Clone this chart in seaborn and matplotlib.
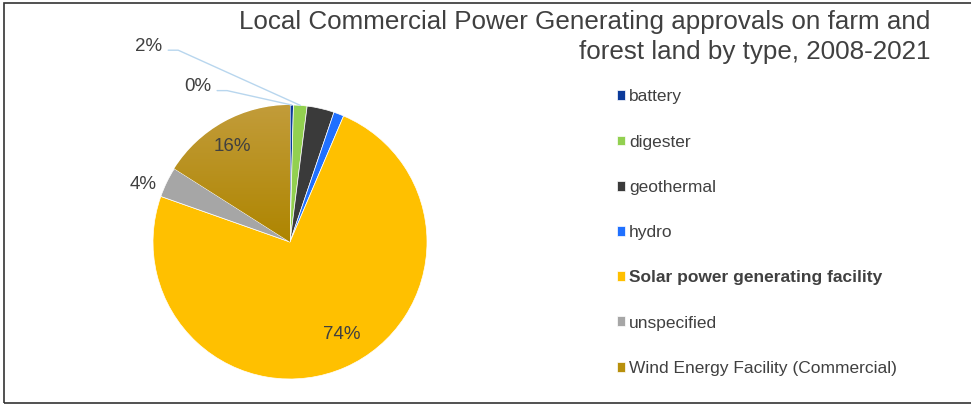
import numpy as np
import matplotlib
matplotlib.use("Agg")
import matplotlib.pyplot as plt
from matplotlib.lines import Line2D
from matplotlib.patches import Rectangle
from matplotlib.colors import LinearSegmentedColormap
import seaborn as sns

# ---- data ----
categories = ["battery", "digester", "geothermal", "hydro",
              "Solar power generating facility", "unspecified",
              "Wind Energy Facility (Commercial)"]
counts = [1, 4, 8, 3, 185, 9, 40]
pct_labels = ["0%", "2%", "3%", "1%", "74%", "4%", "16%"]
title = "Local Commercial Power Generating approvals on farm and\nforest land by type, 2008-2021"

colors = ["#0B3A9A", "#92D050", "#3A3A3A", "#2070FF", "#FFC000", "#A6A6A6", "#B8900C"]

sns.set_theme(style="white")
plt.rcParams["font.family"] = ["Liberation Sans", "DejaVu Sans"]

W, H = 971, 404
fig = plt.figure(figsize=(W / 100, H / 100), dpi=100)
fig.patch.set_facecolor("white")

# pie axes: center (290,242) px, radius 137 px
cx, cy, R = 290, 242, 137
ax = fig.add_axes([(cx - R) / W, (H - cy - R) / H, 2 * R / W, 2 * R / H])
wedges, _ = ax.pie(counts, colors=colors, startangle=90, counterclock=False,
                   radius=1, wedgeprops=dict(edgecolor="white", linewidth=0.5))
ax.set_xlim(-1, 1)
ax.set_ylim(-1, 1)

# gradient for wind wedge
wind = wedges[6]
bb = wind.get_path().get_extents()
cmap = LinearSegmentedColormap.from_list("g", ["#AE8500", "#C29C3A"])
grad = np.linspace(0, 1, 256).reshape(-1, 1)
im = ax.imshow(grad, extent=(bb.x0, bb.x1, bb.y0, bb.y1), origin="lower",
               cmap=cmap, aspect="auto", zorder=wind.get_zorder() + 0.1)
im.set_clip_path(wind)
ax.set_xlim(-1, 1)
ax.set_ylim(-1, 1)
ax.set_aspect("equal")
ax.axis("off")

lab_color = "#404040"
lab_fs = 13.5
# label placement style: (radius, ha, nudge in points)
radial = {2: (1.12, "center", (0, -1.5)), 3: (1.15, "left", (0, 1)),
          4: (0.77, "center", (7, 3)), 5: (1.05, "right", (-3, -4)),
          6: (0.81, "center", (-3, -1))}
leader_spots = {0: (-0.672, 1.135), 1: (-1.029, 1.43)}

for i, w in enumerate(wedges):
    mid = np.deg2rad((w.theta1 + w.theta2) / 2)
    d = np.array([np.cos(mid), np.sin(mid)])
    if i in radial:
        r, ha, nud = radial[i]
        ax.annotate(pct_labels[i], xy=tuple(d * r), xytext=nud,
                    textcoords="offset points", ha=ha, va="center",
                    fontsize=lab_fs, color=lab_color)
    else:
        lx, ly = leader_spots[i]
        ax.text(lx, ly, pct_labels[i], ha="center", va="center",
                fontsize=lab_fs, color=lab_color)
        sx = lx + 0.14
        sy = ly - 0.03
        ex, ey = d * 1.0
        ax.add_line(Line2D([sx, sx + 0.073, ex], [sy, sy, ey], color="#B8D6EE",
                           lw=1.0, clip_on=False))

# title
fig.text(930 / W, 1 - 10 / H, title, ha="right", va="top", fontsize=18.7,
         color=lab_color, linespacing=1.3, multialignment="right")

# legend
leg = ax.legend(wedges, categories, loc="upper left",
                bbox_to_anchor=(616.7 / W, 1 - 89.5 / H),
                bbox_transform=fig.transFigure, frameon=False,
                fontsize=12.5, handlelength=0.5, handleheight=0.5,
                handletextpad=0.21, labelspacing=1.74, borderpad=0,
                borderaxespad=0, labelcolor=lab_color)
leg.get_texts()[4].set_fontweight("bold")

# outer frame (top, left, bottom)
fig.add_artist(Rectangle((4 / W, 1.5 / H), 1.2, 1 - 4.5 / H,
                         transform=fig.transFigure, fill=False,
                         edgecolor="#333333", lw=1.2))

fig.savefig("out.png", dpi=100, facecolor="white")
